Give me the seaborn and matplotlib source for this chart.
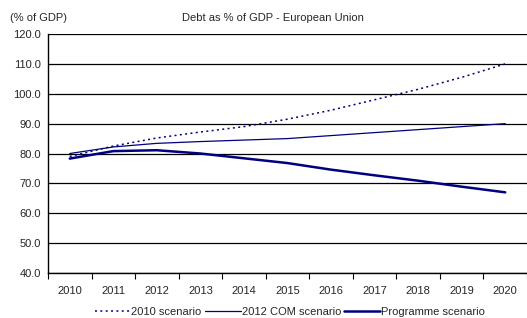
import matplotlib
matplotlib.use("Agg")
import matplotlib.pyplot as plt
import seaborn as sns
import pandas as pd

years = ['2010', '2011', '2012', '2013', '2014', '2015', '2016', '2017', '2018', '2019', '2020']
scen_2010 = [79.0, 82.5, 85.2, 87.2, 89.0, 91.5, 94.5, 98.0, 101.5, 105.5, 110.0]
scen_2012_com = [80.0, 82.2, 83.4, 84.0, 84.5, 85.0, 86.0, 87.0, 88.0, 89.0, 90.0]
programme = [78.3, 80.8, 81.1, 80.0, 78.4, 76.8, 74.6, 72.7, 70.9, 68.9, 67.0]
yticks = [40, 50, 60, 70, 80, 90, 100, 110, 120]

sns.set_style('white')
plt.rcParams['font.family'] = ['Liberation Sans', 'DejaVu Sans']
plt.rcParams['font.size'] = 8

df = pd.DataFrame({'year': years, '2010': scen_2010, 'com': scen_2012_com, 'prog': programme})

fig = plt.figure(figsize=(5.27, 3.18), dpi=100)
ax = fig.add_axes([0.091, 0.1415, 0.909, 0.7515])

navy = '#000080'
sns.lineplot(data=df, x='year', y='2010', ax=ax, color=navy, linewidth=1.1,
             linestyle=(0, (1.3, 2.2)), label='2010 scenario', sort=False)
sns.lineplot(data=df, x='year', y='com', ax=ax, color=navy, linewidth=0.9,
             label='2012 COM scenario', sort=False)
sns.lineplot(data=df, x='year', y='prog', ax=ax, color=navy, linewidth=1.8,
             label='Programme scenario', sort=False)

ax.set_xlim(-0.5, 10.5)
ax.set_ylim(40, 120)
ax.set_yticks(yticks)
ax.set_yticklabels([f'{v:.1f}' for v in yticks])
ax.yaxis.grid(True, color='black', linewidth=0.9)
ax.set_axisbelow(True)
ax.set_xlabel('')
ax.set_ylabel('')

# category boundaries get the tick marks, labels stay centred
ax.set_xticks(range(len(years)))
ax.set_xticklabels(years)
ax.tick_params(axis='x', which='major', length=0, pad=9)
ax.set_xticks([i - 0.5 for i in range(len(years) + 1)], minor=True)
ax.tick_params(axis='x', which='minor', length=4, width=0.8, color='black', direction='out')
ax.tick_params(axis='y', length=3, width=0.8, color='black', direction='out', pad=2)
ax.xaxis.set_tick_params(bottom=True, which='both')

for s in ['top', 'right']:
    ax.spines[s].set_visible(False)
for s in ['left', 'bottom']:
    ax.spines[s].set_color('black')
    ax.spines[s].set_linewidth(1.0)

fig.text(0.517, 0.943, 'Debt as % of GDP - European Union', ha='center', va='center', fontsize=8)
fig.text(0.019, 0.943, '(% of GDP)', ha='left', va='center', fontsize=8)

ax.legend(loc='center', bbox_to_anchor=(0.55, 0.018), bbox_transform=fig.transFigure,
          ncol=3, frameon=False, handlelength=3.2, handletextpad=0.1, columnspacing=0.3,
          fontsize=8, borderaxespad=0)

fig.savefig('out.png', dpi=100)
